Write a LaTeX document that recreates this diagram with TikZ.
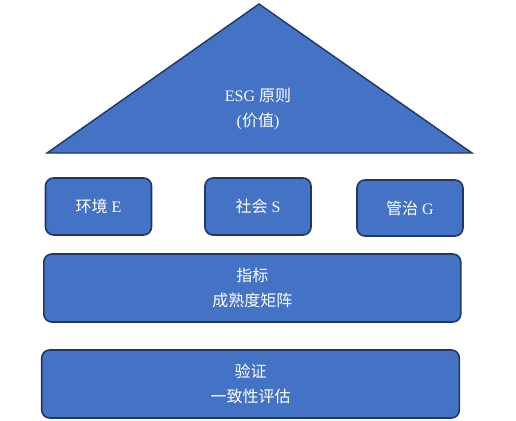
\documentclass[tikz,border=0pt]{standalone}
\usepackage{fontspec}
\setmainfont{Liberation Serif}
\newfontfamily\cjk{Noto Sans CJK SC}
\definecolor{boxfill}{HTML}{4472C4}
\definecolor{boxline}{HTML}{1F3864}
\begin{document}
\begin{tikzpicture}[x=1pt,y=-1pt,
  lbl/.style={text=white,align=center,font=\fontsize{16}{25.5}\selectfont},
  blk/.style={lbl,draw=boxline,line width=1.6pt,fill=boxfill,rounded corners=8pt,inner sep=0pt},
]
\useasboundingbox (0,0) rectangle (516,420);
\coordinate (apex) at (259,4);
\coordinate (bl) at (47,153);
\coordinate (br) at (472,153);
\draw[draw=boxline,line width=1.4pt,fill=boxfill,line join=miter] (apex) -- (br) -- (bl) -- cycle;
\node[lbl] (esg) at (258,109) {ESG {\cjk 原则}\\({\cjk 价值})};
\node[blk,minimum width=106pt,minimum height=57pt] (e) at (98.5,206.5) {{\cjk 环境} E};
\node[blk,minimum width=106pt,minimum height=57pt] (s) at (258,206.5) {{\cjk 社会} S};
\node[blk,minimum width=106pt,minimum height=56pt] (g) at (410,208) {{\cjk 管治} G};
\node[blk,minimum width=417pt,minimum height=68pt] (ind) at (252.3,288) {{\cjk 指标}\\{\cjk 成熟度矩阵}};
\node[blk,minimum width=417.6pt,minimum height=68pt] (ver) at (250.5,384) {{\cjk 验证}\\{\cjk 一致性评估}};
\end{tikzpicture}
\end{document}
